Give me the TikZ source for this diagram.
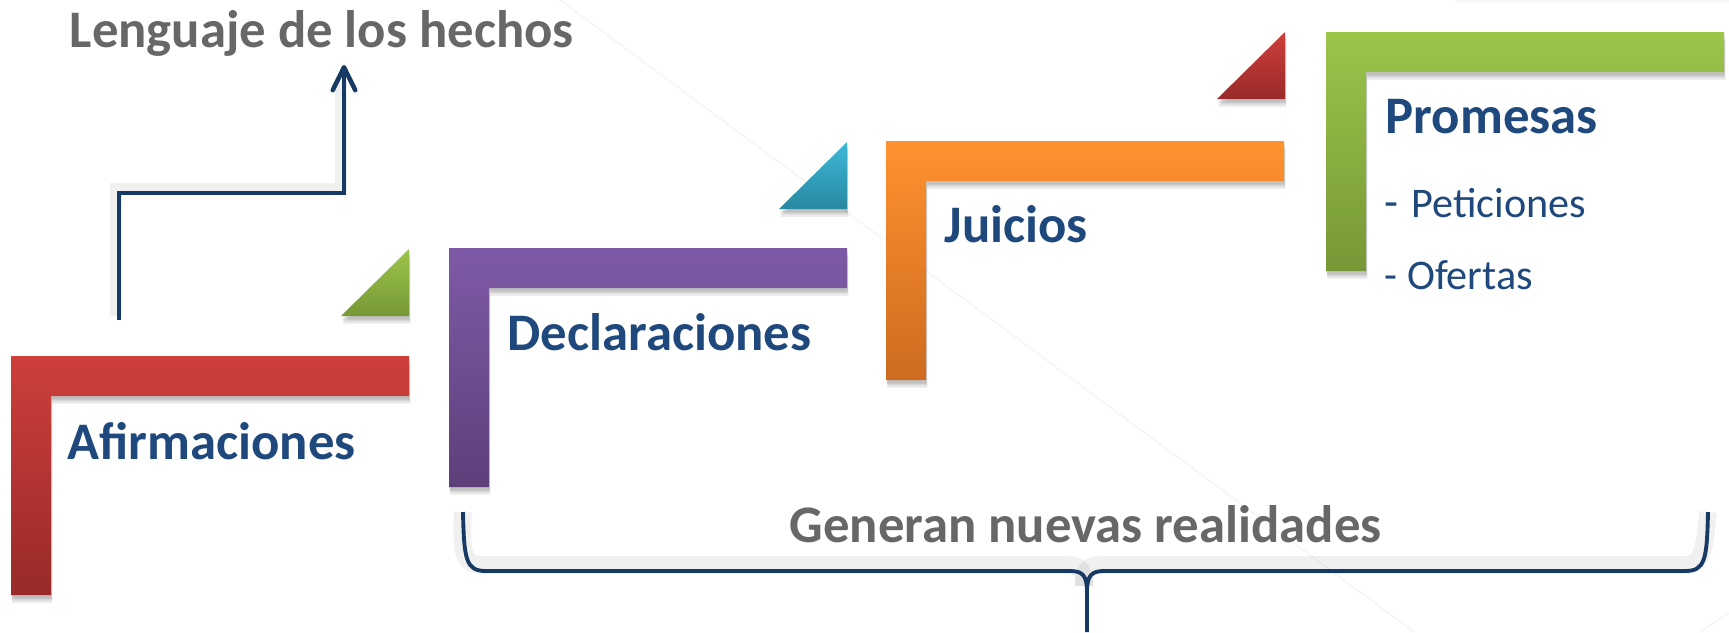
\documentclass[tikz,border=0pt]{standalone}
\usepackage{fontspec}
\setmainfont{Carlito}
\usetikzlibrary{arrows.meta,shadows}
\definecolor{txtblue}{RGB}{31,73,125}
\definecolor{txtgray}{RGB}{103,103,103}
\definecolor{navy}{RGB}{22,58,100}
\definecolor{redT}{RGB}{205,63,59}
\definecolor{redB}{RGB}{152,42,41}
\definecolor{purT}{RGB}{126,90,166}
\definecolor{purB}{RGB}{93,64,122}
\definecolor{oraT}{RGB}{255,146,48}
\definecolor{oraB}{RGB}{206,107,31}
\definecolor{grnT}{RGB}{156,197,74}
\definecolor{grnB}{RGB}{118,152,55}
\definecolor{cyaT}{RGB}{62,185,216}
\definecolor{cyaB}{RGB}{40,136,160}
\newcommand\Lshape[4]{%
  \path[lshadow, top color=#3, bottom color=#4]
    (#1,#2) -- ++(398,0) -- ++(0,40) -- ++(-358,0) -- ++(0,199) -- ++(-40,0) -- cycle;}
\newcommand\Tri[4]{%
  \path[lshadow, top color=#3, bottom color=#4]
    (#1,#2) -- ++(0,67) -- ++(-68,0) -- cycle;}
\begin{document}
\begin{tikzpicture}[x=0.01cm,y=-0.01cm,
  lshadow/.style={
    general shadow={shadow xshift=0.4pt,shadow yshift=-2.2pt,opacity=0.07,fill=black},
    general shadow={shadow xshift=0.3pt,shadow yshift=-1.6pt,opacity=0.09,fill=black},
    general shadow={shadow xshift=0.2pt,shadow yshift=-1.0pt,opacity=0.10,fill=black}},
  head/.style={font=\fontsize{15}{18}\selectfont\bfseries, inner sep=0pt, anchor=base west},
  sub/.style={font=\fontsize{12}{14}\selectfont, text=txtblue, inner sep=0pt, anchor=base west},
  conn/.style={draw=navy, line width=1.3pt},
  connshadow/.style={draw=black, opacity=0.06, line width=3.2pt},
  bgline/.style={draw=black!4, line width=0.35pt}]
\useasboundingbox (0,0) rectangle (1729,632);
\fill[white] (0,0) rectangle (1729,632);
% faint background lines
\draw[bgline] (560,0) -- (1414,632);
\draw[bgline] (1729,613) -- (1700,632);
\fill[black!3] (1455,0) rectangle (1729,3);
% L shapes
\Lshape{11}{356}{redT}{redB}
\Lshape{449}{248}{purT}{purB}
\Lshape{886}{141}{oraT}{oraB}
\Lshape{1326}{32}{grnT}{grnB}
% triangles
\Tri{409}{249}{grnT}{grnB}
\Tri{847}{142}{cyaT}{cyaB}
\Tri{1285}{32}{redT}{redB}
% texts
\node[head, text=txtgray] (lang) at (69,47) {Lenguaje de los hechos};
\node[head, text=txtblue] (afi) at (67,459) {Afirmaciones};
\node[head, text=txtblue] (dec) at (507,350) {Declaraciones};
\node[head, text=txtblue] (jui) at (944,242) {Juicios};
\node[head, text=txtblue] (pro) at (1385,133) {Promesas};
\node[sub] (pet) at (1384,217) {{\fontsize{13}{14}\selectfont -}\hspace{0.3em}Peticiones};
\node[sub] (ofe) at (1384,289) {- Ofertas};
\node[head, text=txtgray] (gen) at (789,542) {Generan nuevas realidades};
% arrow to "Lenguaje de los hechos"
\coordinate (a0) at (119,320);
\coordinate (tip) at (344,65);
\draw[connshadow] ([shift={(-3,-4)}]a0) -- ++(0,-127) -| ([shift={(-3,16)}]tip);
\draw[conn, -{Straight Barb[length=6.5pt,width=6.4pt,line cap=round,line join=round]}]
  (a0) -- ++(0,-127) -| (tip);
% brace
\coordinate (bL) at (463,512);
\coordinate (bR) at (1708,512);
\coordinate (bM) at (1087,632);
\begin{scope}[shift={(-3,-6)}]
\draw[connshadow, line width=5pt] (bL) .. controls (464,560) and (466,571) .. (486,571) -- (1070,571)
   .. controls (1083,571) and (1087,576) .. (1087,592);
\draw[connshadow, line width=5pt] (bR) .. controls (1707,560) and (1705,571) .. (1685,571) -- (1104,571)
   .. controls (1091,571) and (1087,576) .. (1087,592);
\end{scope}
\draw[conn, line width=1.1pt, line join=round] (bL) .. controls (464,560) and (466,571) .. (486,571) -- (1070,571)
   .. controls (1083,571) and (1087,576) .. (1087,592) -- (bM);
\draw[conn, line width=1.1pt, line join=round] (bR) .. controls (1707,560) and (1705,571) .. (1685,571) -- (1104,571)
   .. controls (1091,571) and (1087,576) .. (1087,592);
\end{tikzpicture}
\end{document}
